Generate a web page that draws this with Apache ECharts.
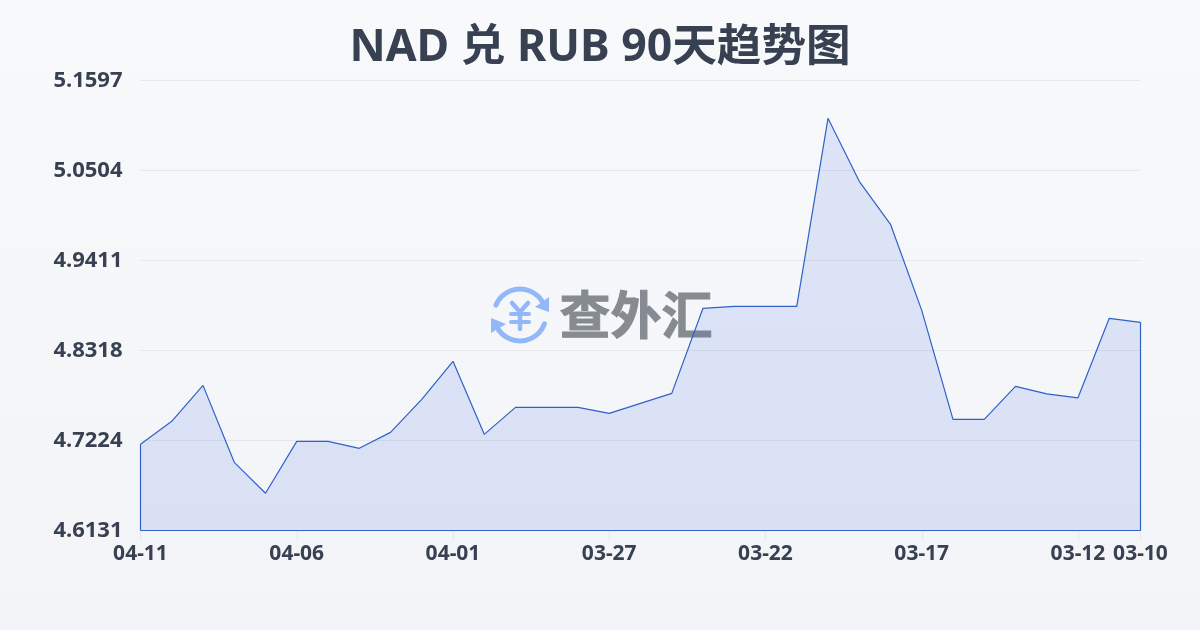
<!DOCTYPE html>
<html><head><meta charset="utf-8">
<style>html,body{margin:0;padding:0;background:#f5f7fa}#c{width:1200px;height:630px}</style>
<script src="https://cdn.jsdelivr.net/npm/echarts@6/dist/echarts.min.js"></script>
</head><body><div id="c"></div>
<script>
const titleText = 'NAD 兑 RUB 90天趋势图';
const watermarkText = '查外汇';
const dates = ['04-11','04-10','04-09','04-08','04-07','04-06','04-05','04-04','04-03','04-02','04-01','03-31','03-30','03-29','03-28','03-27','03-26','03-25','03-24','03-23','03-22','03-21','03-20','03-19','03-18','03-17','03-16','03-15','03-14','03-13','03-12','03-11','03-10'];
const rates = [4.7178,4.7457,4.7894,4.6959,4.6583,4.7214,4.7214,4.7129,4.7323,4.7724,4.8186,4.7299,4.7627,4.7627,4.7627,4.7554,4.7676,4.7797,4.8830,4.8854,4.8854,4.8854,5.1138,5.0372,4.9850,4.8805,4.7481,4.7481,4.7882,4.7791,4.7743,4.8708,4.8660];
const yTicks = [4.6131,4.7224,4.8318,4.9411,5.0504,5.1597];
const xLabelIndexes = [0,5,10,15,20,25,30,32];
const yMin = 4.6131, yMax = 5.1597;
const showX = (i) => xLabelIndexes.includes(i);
const last = dates.length - 1;
const inkBlue = '#2f62c9', iconBlue = '#93b8f8', dark = '#374151';
const chart = echarts.init(document.getElementById('c'), null, {renderer:'canvas'});
chart.setOption({
  animation:false,
  backgroundColor:{type:'linear',x:0,y:0,x2:0,y2:1,colorStops:[{offset:0,color:'#f8f9fb'},{offset:1,color:'#f3f4f7'}]},
  title:{text:titleText,left:'center',top:21,itemGap:0,textStyle:{fontFamily:'"Noto Sans","Noto Sans CJK SC",sans-serif',fontWeight:'bold',fontSize:44.6,color:dark}},
  grid:{left:140.5,top:80.5,width:1000,height:450,containLabel:false},
  xAxis:{type:'category',boundaryGap:false,data:dates,
    axisLine:{show:false},
    axisTick:{show:true,interval:showX,length:10,lineStyle:{color:'#e5e7eb',width:1}},
    axisLabel:{interval:showX,hideOverlap:false,margin:13,fontFamily:'"Noto Sans",sans-serif',fontWeight:'bold',fontSize:21,color:dark},
    splitLine:{show:false}},
  yAxis:{type:'value',min:yMin,max:yMax,
    axisLine:{show:false},axisTick:{show:false,customValues:yTicks},
    axisLabel:{customValues:yTicks,margin:18,verticalAlign:'middle',padding:[0,0,8,0],fontFamily:'"Noto Sans",sans-serif',fontWeight:'bold',fontSize:22,color:dark,formatter:(v)=>v.toFixed(4)},
    splitLine:{show:true,lineStyle:{color:'#e5e7eb',width:1}}},
  series:[{type:'line',data:rates,symbol:'none',smooth:false,z:3,
    lineStyle:{color:inkBlue,width:1.2},
    areaStyle:{color:'rgba(50,100,225,0.19)',origin:'start'},
    markLine:{silent:true,symbol:'none',label:{show:false},animation:false,
      lineStyle:{color:inkBlue,width:1.2,type:'solid'},
      data:[
        [{coord:[dates[0],rates[0]]},{coord:[dates[0],yMin]}],
        [{coord:[dates[0],yMin]},{coord:[dates[last],yMin]}],
        [{coord:[dates[last],yMin]},{coord:[dates[last],rates[last]]}]
      ]}
  }],
  graphic:[
    {type:'group',z:1,silent:true,children:[
      {type:'arc',shape:{cx:520,cy:315,r:26,startAngle:-2.75,endAngle:-0.42},style:{stroke:iconBlue,fill:'none',lineWidth:5,lineCap:'round'}},
      {type:'arc',shape:{cx:520,cy:315,r:26,startAngle:0.35,endAngle:2.72},style:{stroke:iconBlue,fill:'none',lineWidth:5,lineCap:'round'}},
      {type:'polygon',shape:{points:[[549,297],[549,312],[535,307]]},style:{fill:iconBlue}},
      {type:'polygon',shape:{points:[[491,318],[506,324],[491,333]]},style:{fill:iconBlue}},
      {type:'polyline',shape:{points:[[512,303],[520,312],[528,303]]},style:{stroke:iconBlue,fill:'none',lineWidth:4.5,lineCap:'round'}},
      {type:'line',shape:{x1:511,y1:314,x2:529,y2:314},style:{stroke:iconBlue,lineWidth:4,lineCap:'round'}},
      {type:'line',shape:{x1:511,y1:322,x2:529,y2:322},style:{stroke:iconBlue,lineWidth:4,lineCap:'round'}},
      {type:'line',shape:{x1:520,y1:312,x2:520,y2:329},style:{stroke:iconBlue,lineWidth:4.5,lineCap:'round'}},
      {type:'text',style:{x:636,y:315,text:watermarkText,textAlign:'center',textVerticalAlign:'middle',font:'bold 51px "Noto Sans CJK SC"',fill:'#868b92',stroke:'#868b92',lineWidth:1}}
    ]}
  ]
});
</script></body></html>
